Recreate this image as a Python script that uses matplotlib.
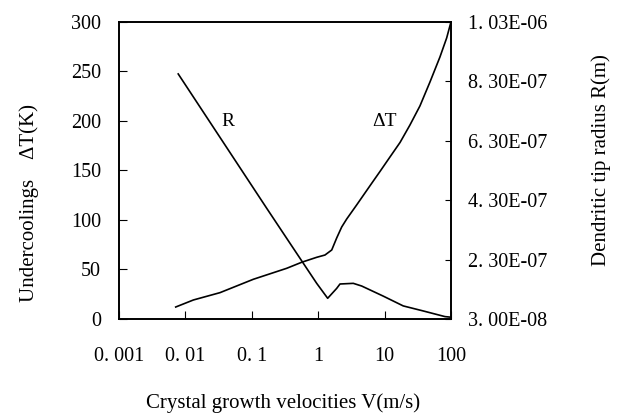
import matplotlib
matplotlib.use("Agg")
import matplotlib.pyplot as plt

# undercooling curve (left axis)
v_dt = [0.00715, 0.0132, 0.0332, 0.1055, 0.336, 0.565, 0.95, 1.265, 1.6, 1.9,
        2.26, 2.69, 3.8, 5.07, 6.77, 8.53, 12.05, 17.1, 24.1, 34.1, 48.3,
        68.2, 86.1, 100.0]
dT = [12.1, 19.2, 26.6, 40.1, 51.2, 57.3, 62.3, 64.6, 69.7, 81.8,
      92.9, 101.0, 115.2, 127.3, 139.4, 149.0, 163.6, 178.3, 195.9, 215.2, 239.4,
      264.6, 283.8, 300.0]

# dendritic tip radius (right axis)
v_r = [0.0078, 0.1675, 0.376, 0.95, 1.39, 1.9, 2.13, 3.38, 4.52, 9.55, 19.1,
       38.3, 81.3, 100.0]
R = [8.55e-7, 4.03e-7, 2.85e-7, 1.50e-7, 0.997e-7, 1.33e-7, 1.478e-7, 1.50e-7,
     1.41e-7, 1.07e-7, 7.4e-8, 5.7e-8, 3.8e-8, 3.6e-8]

x_ticks = [0.001, 0.01, 0.1, 1, 10, 100]
x_labels = ["0. 001", "0. 01", "0. 1", "1", "10", "100"]
y_ticks = [0, 50, 100, 150, 200, 250, 300]
r_ticks = [3.0e-8, 2.3e-7, 4.3e-7, 6.3e-7, 8.3e-7, 1.03e-6]
r_labels = ["3. 00E-08", "2. 30E-07", "4. 30E-07", "6. 30E-07", "8. 30E-07", "1. 03E-06"]

plt.rcParams['font.family'] = ['Liberation Serif', 'DejaVu Serif']

fig = plt.figure(figsize=(6.21, 4.16), dpi=100)
ax = fig.add_axes([0.1916, 0.2332, 0.5346, 0.714])
ax2 = ax.twinx()

ax.plot(v_dt, dT, color='black', lw=1.2)
ax2.plot(v_r, R, color='black', lw=1.2)

ax.set_xscale('log')
ax.set_xlim(0.001, 100)
ax.set_ylim(0, 300)
ax2.set_ylim(3.0e-8, 1.03e-6)

ax.set_xticks(x_ticks)
ax.set_xticklabels(x_labels)
ax.minorticks_off()
ax.set_yticks(y_ticks)
ax2.set_yticks(r_ticks)
ax2.set_yticklabels(r_labels)

ax.tick_params(axis='x', direction='in', length=6, pad=20, labelsize=14.5)
ax.tick_params(axis='y', direction='in', length=6, pad=13, labelsize=14.5)
ax2.tick_params(axis='y', direction='in', length=4, pad=12, labelsize=14.5)

for a in (ax, ax2):
    for s in a.spines.values():
        s.set_linewidth(1.2)

W, H = 621, 416
fig.text(283 / W, 1 - 403 / H, "Crystal growth velocities V(m/s)", fontsize=15,
         ha='center', va='center')
fig.text(29 / W, 1 - 203 / H, "Undercoolings    ΔT(K)", fontsize=15,
         rotation=90, ha='center', va='center')
fig.text(601 / W, 1 - 160 / H, "Dendritic tip radius R(m)", fontsize=15,
         rotation=90, ha='center', va='center')

ax.text(0.0439, 199, "R", fontsize=14, ha='center', va='center')
ax.text(10.1, 199, "ΔT", fontsize=14, ha='center', va='center')

fig.savefig("out.png", dpi=100)
